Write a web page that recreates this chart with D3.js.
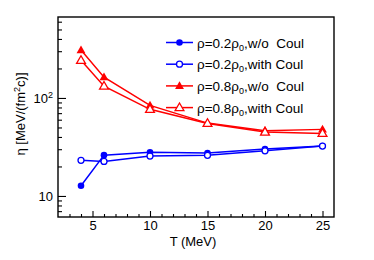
<!DOCTYPE html>
<html>
<head>
<meta charset="utf-8">
<script src="https://cdn.jsdelivr.net/npm/d3@7"></script>
<style>
  body { margin: 0; background: #fff; }
  svg { display: block; font-family: "Liberation Sans", Arial, sans-serif; }
</style>
</head>
<body>
<div id="chart"></div>
<script>
// temperatures (MeV)
const temps = [4, 6, 10, 15, 20, 25];
// viscosity values
const lowNoCoul   = [12.7, 26.1, 27.9, 27.4, 30.1, 32.3];
const lowCoul     = [23.1, 22.5, 25.5, 26.0, 28.9, 32.3];
const highNoCoul  = [308, 163, 84, 55.4, 46.3, 47.8];
const highCoul    = [242, 132, 76.6, 55, 44.9, 43.5];
const xTicks = [5, 10, 15, 20, 25];
const yTicks = [10, 100];

const series = [
  {dens: "0.2", tail: ",w/o\u00a0\u00a0Coul", values: lowNoCoul,  color: "#0000ff", shape: "circle",   filled: true},
  {dens: "0.2", tail: ",with Coul",           values: lowCoul,    color: "#0000ff", shape: "circle",   filled: false},
  {dens: "0.8", tail: ",w/o\u00a0\u00a0Coul", values: highNoCoul, color: "#ff0000", shape: "triangle", filled: true},
  {dens: "0.8", tail: ",with Coul",           values: highCoul,   color: "#ff0000", shape: "triangle", filled: false}
];

const width = 374, height = 260;
const margin = {top: 17, left: 58, bottom: 43, right: 40};

const svg = d3.select('#chart').append('svg')
  .attr('width', width).attr('height', height);

const x = d3.scaleLinear()
  .domain([2, 26])
  .range([margin.left, width - margin.right]);

const y = d3.scaleLog()
  .domain([6.1, 670])
  .range([height - margin.bottom, margin.top]);

// minor ticks x
const xMinor = d3.range(3, 26).filter(v => v % 5 != 0);
svg.append('g')
  .attr('transform', `translate(0, ${height - margin.bottom})`)
  .call(d3.axisBottom(x).tickValues(xMinor).tickSizeInner(-3).tickSizeOuter(0).tickFormat(''))
  .call(g => g.select('.domain').remove())
  .call(g => g.selectAll('line').attr('stroke-width', 1.1));

svg.append('g')
  .attr('transform', `translate(0, ${height - margin.bottom})`)
  .call(d3.axisBottom(x).tickValues(xTicks).tickSizeInner(-6).tickSizeOuter(0).tickPadding(4))
  .call(g => g.select('.domain').remove())
  .call(g => g.selectAll('line').attr('stroke-width', 1.1))
  .call(g => g.selectAll('text').attr('font-size', 13).attr('font-family', null).attr('fill', '#000'));

// minor ticks y
const yMinor = [];
[1, 10, 100].forEach(d => { for (let k = 2; k <= 9; k++) { const v = d * k; if (v > 6.1 && v < 670) yMinor.push(v); } });
svg.append('g')
  .attr('transform', `translate(${margin.left}, 0)`)
  .call(d3.axisLeft(y).tickValues(yMinor).tickSizeInner(-4).tickSizeOuter(0).tickFormat(''))
  .call(g => g.select('.domain').remove())
  .call(g => g.selectAll('line').attr('stroke-width', 1.1));

svg.append('g')
  .attr('transform', `translate(${margin.left}, 0)`)
  .call(d3.axisLeft(y).tickValues(yTicks).tickSizeInner(-8).tickSizeOuter(0).tickPadding(5).tickFormat(''))
  .call(g => g.select('.domain').remove())
  .call(g => g.selectAll('line').attr('stroke-width', 1.1))
  .call(g => g.selectAll('.tick text')
    .attr('font-size', 13).attr('font-family', null).attr('fill', '#000')
    .each(function(d) {
      const t = d3.select(this);
      if (d === 10) { t.text('10'); }
      else {
        t.append('tspan').text('10');
        t.append('tspan').attr('dy', -5).attr('font-size', 9).text('2');
      }
    }));

// frame
svg.append('rect')
  .attr('x', margin.left).attr('y', margin.top)
  .attr('width', width - margin.left - margin.right)
  .attr('height', height - margin.top - margin.bottom)
  .attr('fill', 'none').attr('stroke', '#000').attr('stroke-width', 1.4);

const line = d3.line().x((d, i) => x(temps[i])).y(d => y(d));
const tri = d3.symbol().type(d3.symbolTriangle).size(34);

function drawMarker(g, s, cx, cy) {
  if (s.shape === 'circle') {
    g.append('circle').attr('cx', cx).attr('cy', cy)
      .attr('r', s.filled ? 3.3 : 3)
      .attr('fill', s.filled ? s.color : '#fff')
      .attr('stroke', s.color).attr('stroke-width', s.filled ? 0 : 1.3);
  } else {
    g.append('path').attr('d', tri)
      .attr('transform', `translate(${cx},${cy + 0.5})`)
      .attr('fill', s.filled ? s.color : '#fff')
      .attr('stroke', s.color).attr('stroke-width', s.filled ? 0 : 1.3);
  }
}

series.forEach(s => {
  const g = svg.append('g');
  g.append('path').datum(s.values)
    .attr('fill', 'none').attr('stroke', s.color).attr('stroke-width', 1.5)
    .attr('d', line);
  s.values.forEach((v, i) => drawMarker(g, s, x(temps[i]), y(v)));
});

// legend
const legend = svg.append('g');
series.forEach((s, i) => {
  const ly = 42.5 + i * 21.7;
  legend.append('line').attr('x1', 166).attr('x2', 193).attr('y1', ly).attr('y2', ly)
    .attr('stroke', s.color).attr('stroke-width', 1.5);
  drawMarker(legend, s, 179.5, ly);
  const t = legend.append('text').attr('x', 197).attr('y', ly + 5)
    .attr('font-size', 13.5).attr('fill', '#000');
  t.append('tspan').text('\u03c1=' + s.dens + '\u03c1');
  t.append('tspan').attr('dy', 3).attr('font-size', 9).text('0');
  t.append('tspan').attr('dy', -3).text(s.tail);
});

// axis titles
svg.append('text')
  .attr('x', 193).attr('y', 246)
  .attr('text-anchor', 'middle').attr('font-size', 13)
  .text('T (MeV)');

const yl = svg.append('text')
  .attr('transform', 'translate(25, 114) rotate(-90)')
  .attr('text-anchor', 'middle').attr('font-size', 13);
yl.append('tspan').text('\u03b7 [MeV/(fm');
yl.append('tspan').attr('dy', -5).attr('font-size', 9).text('2');
yl.append('tspan').attr('dy', 5).text('c)]');
</script>
</body>
</html>
